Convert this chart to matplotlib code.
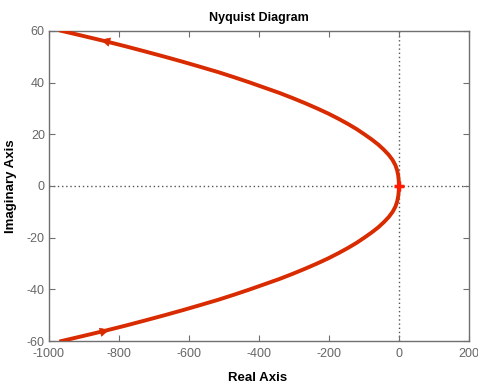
import numpy as np
import matplotlib
matplotlib.use("Agg")
import matplotlib.pyplot as plt
from matplotlib import font_manager

# positive-frequency branch of the response (imag < 0), from low to high frequency
im_pos = [-60, -58, -56, -54, -52, -50, -48, -46, -44, -42, -40, -38, -36, -34,
          -32, -30, -28, -26, -24, -22, -20, -18, -16, -14, -12, -10, -8, -6,
          -4, -2, 0]
re_pos = [-965, -902, -840, -781, -725, -670, -617, -566, -516, -470, -426, -384,
          -342, -304, -268, -234, -202, -173, -146, -121, -99, -78, -59, -43,
          -29, -18, -10, -5, -2, -0.5, 0]

xticks = [-1000, -800, -600, -400, -200, 0, 200]
yticks = [-60, -40, -20, 0, 20, 40, 60]

names = {f.name for f in font_manager.fontManager.ttflist}
family = "Liberation Sans Narrow" if "Liberation Sans Narrow" in names else "Liberation Sans"
plt.rcParams["font.family"] = [family, "DejaVu Sans"]
plt.rcParams["axes.unicode_minus"] = False

red = "#d92b00"
grey = "#707070"

fig = plt.figure(figsize=(4.78, 3.85), dpi=100)
ax = fig.add_axes([0.1025, 0.114, 0.8785, 0.806])

# zero lines
ax.axhline(0, color="#555555", lw=1.0, ls=(0, (1, 2)), zorder=1)
ax.axvline(0, color="#555555", lw=1.0, ls=(0, (1, 2)), zorder=1)

re = np.array(re_pos, float)
im = np.array(im_pos, float)
ax.plot(re, im, color=red, lw=2.8, solid_joinstyle="round", zorder=3)
ax.plot(re, -im, color=red, lw=2.8, solid_joinstyle="round", zorder=3)

# direction arrows: toward the origin below, away from it above
head = dict(arrowstyle="-|>", color=red, lw=0.5, mutation_scale=15)
ax.annotate("", xy=(re[2] + 20, im[2] + 0.6), xytext=(re[2] - 20, im[2] - 0.8),
            arrowprops=head, zorder=4)
ax.annotate("", xy=(re[2] - 20, -im[2] + 0.8), xytext=(re[2] + 20, -im[2] - 0.6),
            arrowprops=head, zorder=4)

# critical point
ax.plot([-1], [0], "+", color="#ff1a00", ms=7, mew=2.5, zorder=5)

ax.set_xlim(-1000, 200)
ax.set_ylim(-60, 60)
ax.set_xticks(xticks)
ax.set_yticks(yticks)

for s in ax.spines.values():
    s.set_color(grey)
    s.set_linewidth(1.0)
ax.tick_params(direction="in", length=4, width=0.8, color=grey,
               top=True, right=True, labelsize=9, labelcolor="#666666", pad=3)
ax.tick_params(axis="x", pad=5)

ax.set_title("Nyquist Diagram", fontsize=9, fontweight="bold", pad=7)
ax.set_xlabel("Real Axis", fontsize=9.5, fontweight="bold")
ax.set_ylabel("Imaginary Axis", fontsize=9.5, fontweight="bold")
ax.xaxis.set_label_coords(0.497, -0.1)
ax.yaxis.set_label_coords(-0.077, 0.5)

fig.savefig("out.png", dpi=100)
